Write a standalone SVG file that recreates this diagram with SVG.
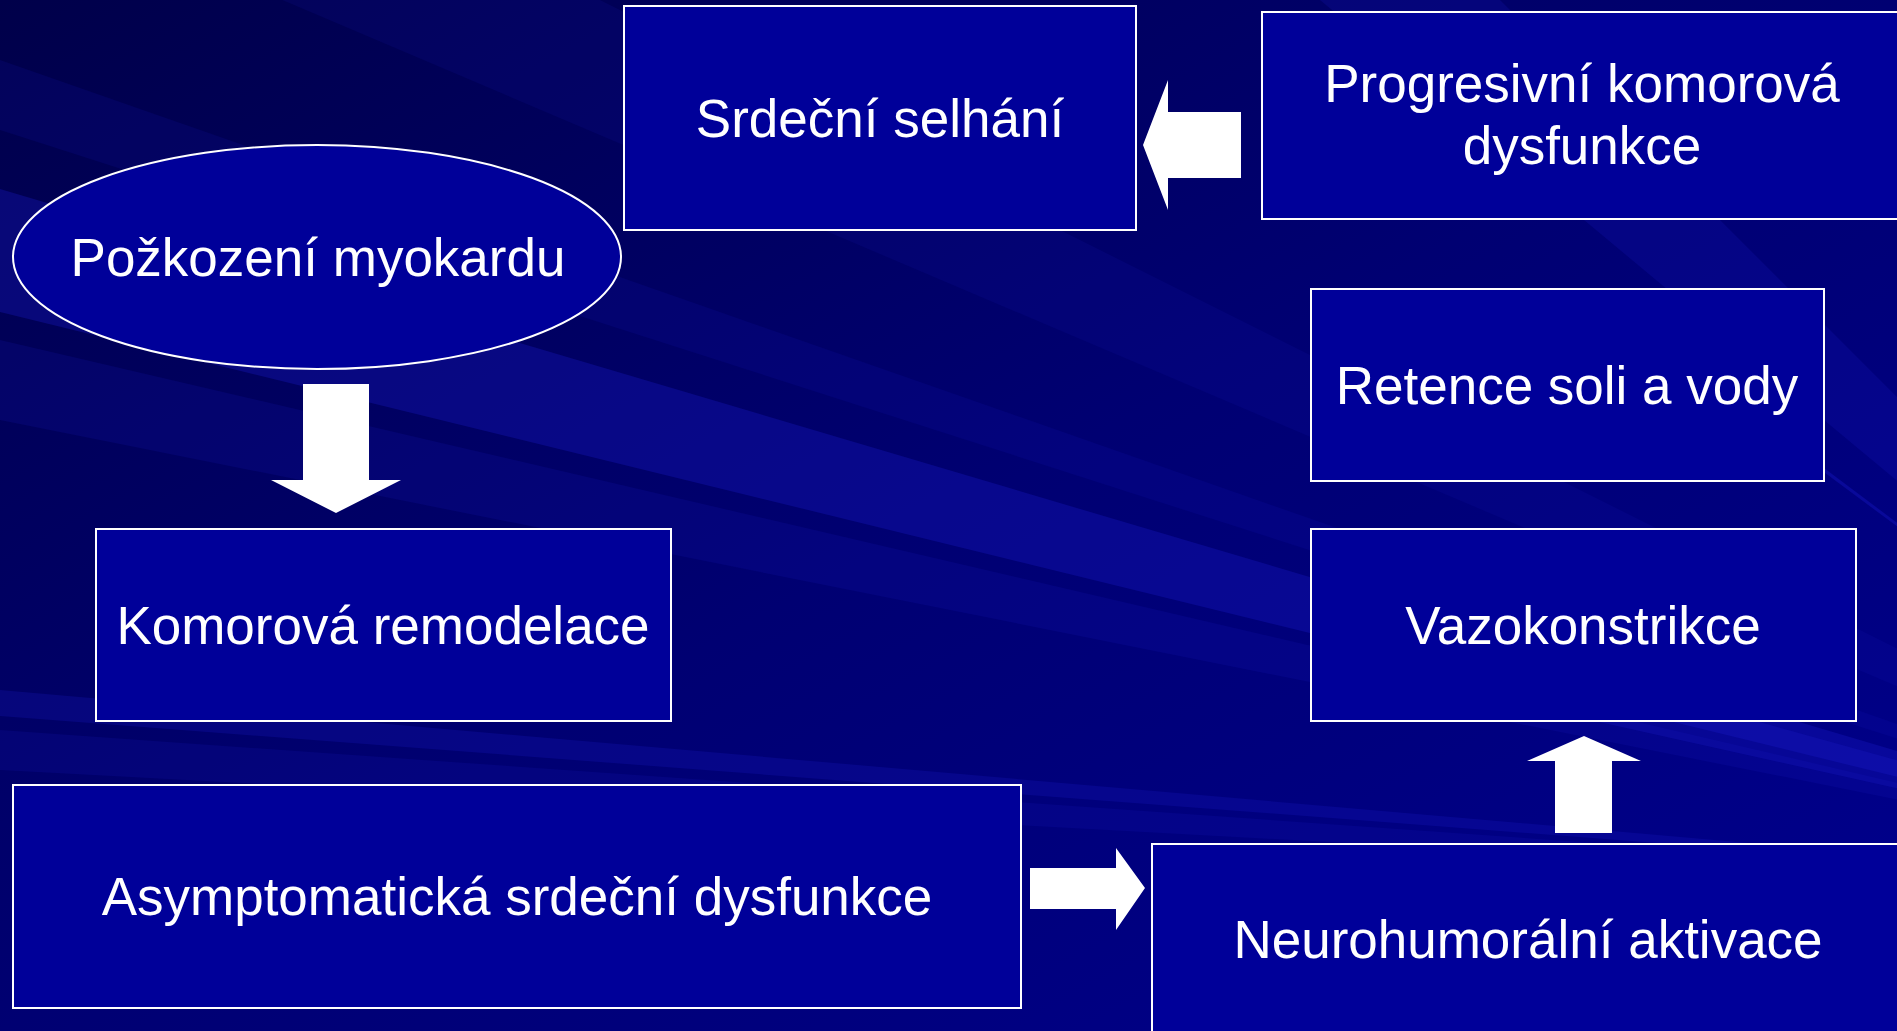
<svg xmlns="http://www.w3.org/2000/svg" width="1897" height="1031" viewBox="0 0 1897 1031">
  <defs>
    <linearGradient id="bg" x1="0" y1="0" x2="1" y2="1">
      <stop offset="0" stop-color="#00004a"/>
      <stop offset="0.5" stop-color="#000072"/>
      <stop offset="1" stop-color="#00008e"/>
    </linearGradient>
    <style>
      .node { fill: #000099; stroke: #ffffff; stroke-width: 2; }
      .lbl { fill: #ffffff; font-family: "Liberation Sans", Arial, sans-serif; font-size: 53px; text-anchor: middle; }
      .arrow { fill: #ffffff; stroke: none; }
      .ray { fill: #1a1acc; }
    </style>
  </defs>

  <g id="background">
    <rect x="0" y="0" width="1897" height="1031" fill="url(#bg)"/>
    <polygon class="ray" opacity="0.10" points="2400,900 0,-300 0,-120"/>
    <polygon class="ray" opacity="0.12" points="2400,900 0,60 0,130"/>
    <polygon class="ray" opacity="0.30" points="2400,900 0,189 0,312"/>
    <polygon class="ray" opacity="0.15" points="2400,900 0,340 0,420"/>
    <polygon class="ray" opacity="0.22" points="2400,900 0,690 0,716"/>
    <polygon class="ray" opacity="0.15" points="2400,900 0,730 0,770"/>
    <polygon class="ray" opacity="0.35" points="2400,900 1700,380 1760,420"/>
    <polygon class="ray" opacity="0.25" points="2400,900 1500,650 1500,700"/>
    <polygon class="ray" opacity="0.18" points="2400,900 1200,-100 1400,-100"/>
  </g>

  <g id="connectors">
    <polygon id="arrow-progresivni-srdecni" class="arrow" points="1143,145 1168,80 1168,112 1241,112 1241,178 1168,178 1168,210"/>
    <polygon id="arrow-pozkozeni-komorova" class="arrow" points="303,384 369,384 369,480 401,480 336,513 271,480 303,480"/>
    <polygon id="arrow-asymptomaticka-neuro" class="arrow" points="1030,868 1116,868 1116,848 1145,888 1116,930 1116,909 1030,909"/>
    <polygon id="arrow-neuro-vazo" class="arrow" points="1584,736 1641,761 1612,761 1612,833 1555,833 1555,761 1527,761"/>
  </g>

  <g id="node-srdecni-selhani">
    <rect class="node" x="624" y="6" width="512" height="224"/>
    <text class="lbl" x="880" y="137">Srdeční selhání</text>
  </g>

  <g id="node-progresivni">
    <rect class="node" x="1262" y="12" width="650" height="207"/>
    <text class="lbl" x="1582" y="102">Progresivní komorová</text>
    <text class="lbl" x="1582" y="164">dysfunkce</text>
  </g>

  <g id="node-pozkozeni">
    <ellipse class="node" cx="317" cy="257" rx="304" ry="112"/>
    <text class="lbl" x="318" y="276">Požkození myokardu</text>
  </g>

  <g id="node-retence">
    <rect class="node" x="1311" y="289" width="513" height="192"/>
    <text class="lbl" x="1567" y="404">Retence soli a vody</text>
  </g>

  <g id="node-komorova-remodelace">
    <rect class="node" x="96" y="529" width="575" height="192"/>
    <text class="lbl" x="383" y="644">Komorová remodelace</text>
  </g>

  <g id="node-vazokonstrikce">
    <rect class="node" x="1311" y="529" width="545" height="192"/>
    <text class="lbl" x="1583" y="644">Vazokonstrikce</text>
  </g>

  <g id="node-asymptomaticka">
    <rect class="node" x="13" y="785" width="1008" height="223"/>
    <text class="lbl" x="517" y="915">Asymptomatická srdeční dysfunkce</text>
  </g>

  <g id="node-neurohumoralni">
    <rect class="node" x="1152" y="844" width="760" height="200"/>
    <text class="lbl" x="1528" y="958">Neurohumorální aktivace</text>
  </g>
</svg>
